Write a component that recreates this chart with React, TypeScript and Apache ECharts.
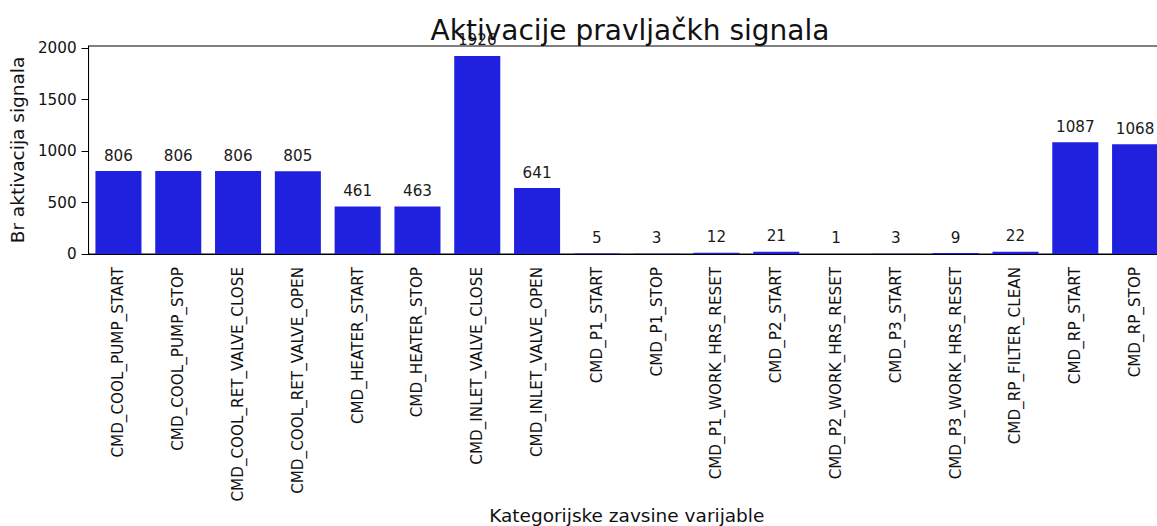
import React, { useEffect, useRef } from "react";
import * as echarts from "echarts";

const categories = [
  "CMD_COOL_PUMP_START",
  "CMD_COOL_PUMP_STOP",
  "CMD_COOL_RET_VALVE_CLOSE",
  "CMD_COOL_RET_VALVE_OPEN",
  "CMD_HEATER_START",
  "CMD_HEATER_STOP",
  "CMD_INLET_VALVE_CLOSE",
  "CMD_INLET_VALVE_OPEN",
  "CMD_P1_START",
  "CMD_P1_STOP",
  "CMD_P1_WORK_HRS_RESET",
  "CMD_P2_START",
  "CMD_P2_WORK_HRS_RESET",
  "CMD_P3_START",
  "CMD_P3_WORK_HRS_RESET",
  "CMD_RP_FILTER_CLEAN",
  "CMD_RP_START",
  "CMD_RP_STOP",
];

const activations = [806, 806, 806, 805, 461, 463, 1926, 641, 5, 3, 12, 21, 1, 3, 9, 22, 1087, 1068];

const yTicks = [0, 500, 1000, 1500, 2000];

const titleText = "Aktivacije pravljačkh signala";
const xName = "Kategorijske zavsine varijable";
const yName = "Br aktivacija signala";

const FONT = "DejaVu Sans";

export default function App() {
  const ref = useRef<HTMLDivElement>(null);

  useEffect(() => {
    if (!ref.current) return;
    const chart = echarts.init(ref.current, null, { renderer: "svg" });
    const yMax = Math.max(...activations) * 1.05;
    chart.setOption({
      animation: false,
      backgroundColor: "#ffffff",
      textStyle: { fontFamily: FONT },
      title: {
        text: titleText,
        left: 625,
        top: 11,
        textAlign: "center",
        textStyle: { fontFamily: FONT, fontSize: 28, fontWeight: "normal", color: "#111" },
      },
      grid: {
        left: 87,
        top: 46,
        bottom: 272,
        right: 15,
        show: true,
        borderColor: "#000",
        borderWidth: 1,
        backgroundColor: "transparent",
      },
      xAxis: {
        type: "category",
        data: categories,
        name: xName,
        nameLocation: "middle",
        nameGap: 252,
        nameTextStyle: { fontFamily: FONT, fontSize: 18.5, color: "#111", verticalAlign: "top" },
        axisLine: { lineStyle: { color: "#000", width: 1 } },
        axisTick: { alignWithLabel: true, length: 5, lineStyle: { color: "#000" } },
        axisLabel: { rotate: 90, fontSize: 15.2, color: "#111", margin: 13, fontFamily: FONT },
      },
      yAxis: {
        type: "value",
        min: 0,
        max: yMax,
        interval: 500,
        name: yName,
        nameLocation: "middle",
        nameGap: 56,
        nameTextStyle: { fontFamily: FONT, fontSize: 18.5, color: "#111" },
        splitLine: { show: false },
        axisLine: { show: true, lineStyle: { color: "#000", width: 1 } },
        axisTick: { show: true, length: 7, customValues: yTicks, lineStyle: { color: "#000" } },
        axisLabel: {
          fontSize: 15.2,
          color: "#111",
          margin: 12,
          customValues: yTicks,
          fontFamily: FONT,
          formatter: (v: number) => String(Math.round(v)),
        },
      },
      series: [
        {
          type: "bar",
          data: activations,
          barCategoryGap: "23%",
          itemStyle: { color: "#2020df" },
          label: {
            show: true,
            position: "top",
            distance: 8,
            fontSize: 15.2,
            color: "#1a1a1a",
            fontFamily: FONT,
          },
        },
      ],
    });
    return () => chart.dispose();
  }, []);

  return (
    <div style={{ position: "fixed", left: 0, top: 0, width: 1157, height: 526, overflow: "hidden", background: "#fff" }}>
      <div ref={ref} style={{ width: 1180, height: 526 }} />
    </div>
  );
}
